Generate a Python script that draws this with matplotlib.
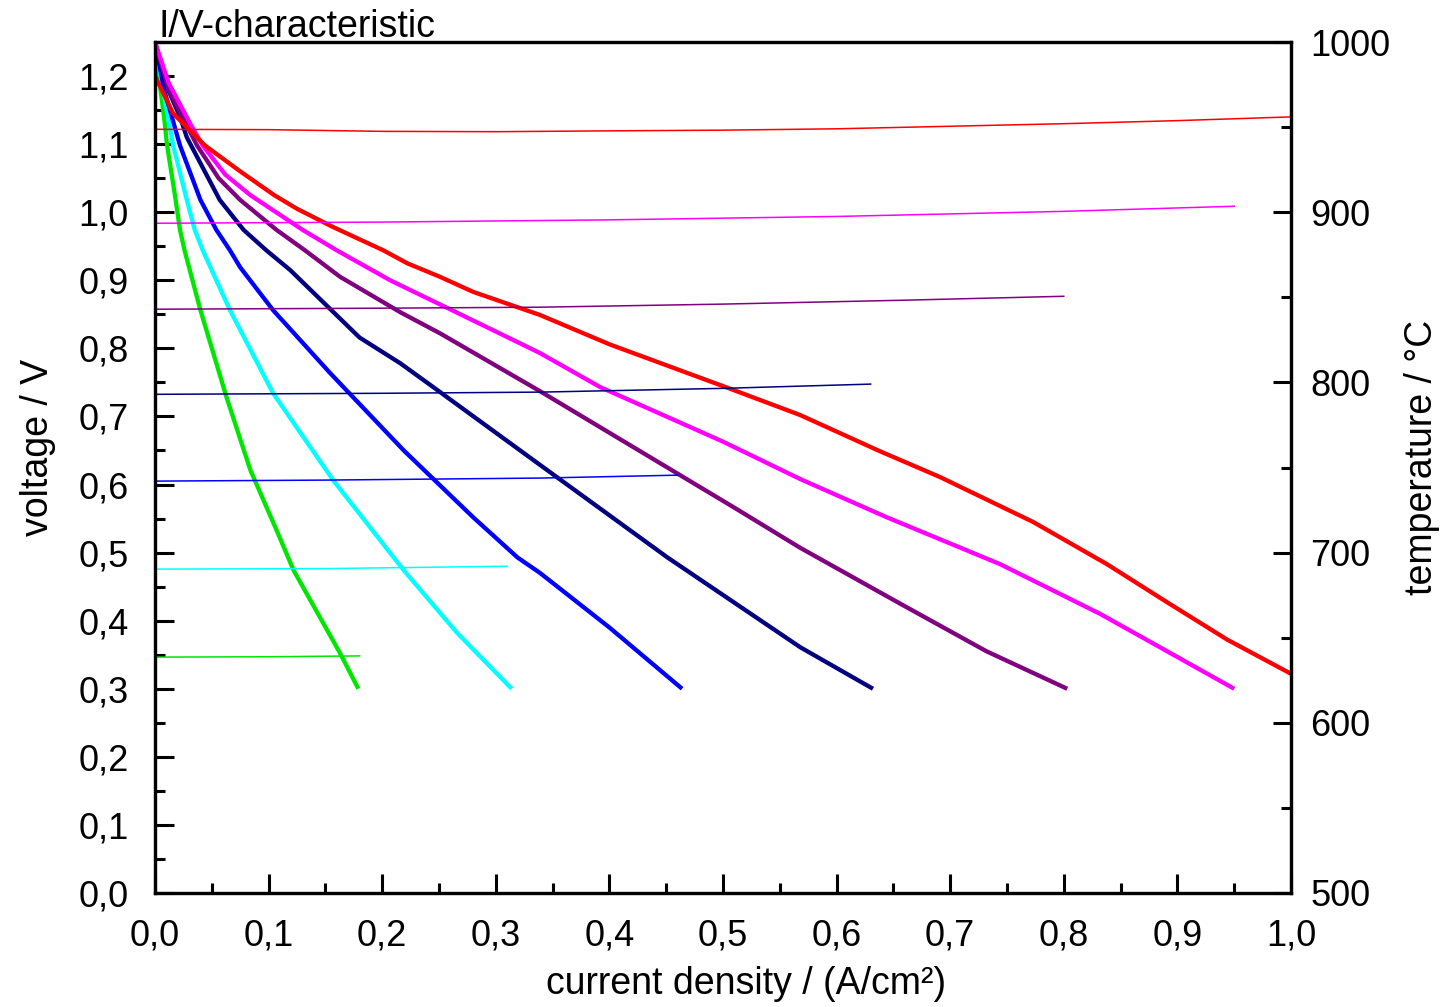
import matplotlib
matplotlib.use("Agg")
import matplotlib.pyplot as plt
from matplotlib.ticker import MultipleLocator, FuncFormatter

plt.rcParams['font.family'] = ['Liberation Sans', 'DejaVu Sans']

# ---- data: I/V curves (current density A/cm², voltage V) ----
green_j = [0, 0.004, 0.008, 0.0105, 0.018, 0.022, 0.026, 0.040, 0.063, 0.084, 0.107, 0.122, 0.163, 0.179]
green_v = [1.25, 1.19, 1.14, 1.10, 1.02, 0.974, 0.944, 0.856, 0.728, 0.621, 0.533, 0.474, 0.352, 0.30]

cyan_j = [0, 0.006, 0.016, 0.028, 0.035, 0.042, 0.066, 0.104, 0.157, 0.219, 0.266, 0.314]
cyan_v = [1.25, 1.19, 1.098, 1.018, 0.974, 0.944, 0.856, 0.734, 0.606, 0.474, 0.382, 0.30]

blue_j = [0, 0.008, 0.022, 0.040, 0.054, 0.066, 0.075, 0.104, 0.154, 0.219, 0.280, 0.319, 0.339, 0.40, 0.464]
blue_v = [1.25, 1.18, 1.098, 1.018, 0.974, 0.944, 0.919, 0.856, 0.764, 0.650, 0.552, 0.493, 0.470, 0.39, 0.30]

navy_j = [0, 0.009, 0.022, 0.028, 0.057, 0.078, 0.098, 0.119, 0.180, 0.216, 0.245, 0.333, 0.451, 0.568, 0.632]
navy_v = [1.25, 1.19, 1.14, 1.11, 1.018, 0.974, 0.944, 0.915, 0.816, 0.778, 0.743, 0.636, 0.493, 0.361, 0.30]

purple_j = [0, 0.012, 0.037, 0.056, 0.075, 0.107, 0.132, 0.163, 0.216, 0.251, 0.339, 0.509, 0.568, 0.656, 0.732, 0.803]
purple_v = [1.25, 1.18, 1.098, 1.05, 1.018, 0.974, 0.944, 0.905, 0.853, 0.822, 0.737, 0.567, 0.507, 0.425, 0.355, 0.30]

magenta_j = [0, 0.012, 0.031, 0.042, 0.062, 0.084, 0.130, 0.160, 0.207, 0.280, 0.339, 0.392, 0.50, 0.568, 0.644, 0.744, 0.832, 0.891, 0.95]
magenta_v = [1.25, 1.19, 1.13, 1.098, 1.055, 1.025, 0.974, 0.944, 0.900, 0.841, 0.793, 0.743, 0.663, 0.608, 0.552, 0.483, 0.410, 0.355, 0.30]

red_j = [0, 0.016, 0.044, 0.075, 0.105, 0.125, 0.157, 0.201, 0.222, 0.251, 0.280, 0.339, 0.40, 0.509, 0.568, 0.638, 0.691, 0.773, 0.838, 0.891, 0.944, 1.0]
red_v = [1.20, 1.145, 1.098, 1.060, 1.025, 1.005, 0.978, 0.944, 0.925, 0.905, 0.883, 0.849, 0.806, 0.739, 0.702, 0.649, 0.611, 0.545, 0.483, 0.427, 0.372, 0.322]

# ---- data: temperature traces (current density, °C) ----
red_tj = [0, 0.1, 0.2, 0.3, 0.4, 0.5, 0.6, 0.7, 0.8, 0.9, 1.0]
red_t = [948.7, 948.5, 947.5, 947.3, 947.8, 948.2, 949.0, 950.5, 952.0, 953.8, 956.0]
magenta_tj = [0, 0.2, 0.4, 0.6, 0.8, 0.95]
magenta_t = [893.5, 894.2, 895.5, 897.5, 900.5, 903.5]
purple_tj = [0, 0.2, 0.34, 0.5, 0.66, 0.8]
purple_t = [843.0, 843.6, 844.2, 846.0, 848.3, 850.6]
navy_tj = [0, 0.2, 0.34, 0.5, 0.63]
navy_t = [793.0, 793.6, 794.3, 796.5, 799.0]
blue_tj = [0, 0.15, 0.34, 0.46]
blue_t = [742.0, 742.6, 743.8, 745.5]
cyan_tj = [0, 0.15, 0.31]
cyan_t = [690.3, 690.6, 692.0]
green_tj = [0, 0.1, 0.18]
green_t = [638.6, 638.8, 639.3]

x_ticks = [0.0, 0.1, 0.2, 0.3, 0.4, 0.5, 0.6, 0.7, 0.8, 0.9, 1.0]

C_GREEN, C_CYAN, C_BLUE, C_NAVY = '#00e600', '#00ffff', '#0000ff', '#000080'
C_PURPLE, C_MAGENTA, C_RED = '#800080', '#ff00ff', '#ff0000'

fig = plt.figure(figsize=(14.41, 10.07), dpi=100)
ax = fig.add_axes([155/1441, 114/1007, (1291-155)/1441, (893-42)/1007])
ax2 = ax.twinx()

lw = 3.1
for j, v, c in [(green_j, green_v, C_GREEN), (cyan_j, cyan_v, C_CYAN), (blue_j, blue_v, C_BLUE),
                (navy_j, navy_v, C_NAVY), (purple_j, purple_v, C_PURPLE),
                (magenta_j, magenta_v, C_MAGENTA), (red_j, red_v, C_RED)]:
    ax.plot(j, v, color=c, lw=lw, solid_joinstyle='round', solid_capstyle='butt')

for j, t, c in [(red_tj, red_t, C_RED), (magenta_tj, magenta_t, C_MAGENTA), (purple_tj, purple_t, C_PURPLE),
                (navy_tj, navy_t, C_NAVY), (blue_tj, blue_t, C_BLUE), (cyan_tj, cyan_t, C_CYAN),
                (green_tj, green_t, C_GREEN)]:
    ax2.plot(j, t, color=c, lw=1.1)

ax.set_xlim(0, 1.0)
ax.set_ylim(0, 1.25)
ax2.set_ylim(500, 1000)

comma = FuncFormatter(lambda v, p: f"{v:.1f}".replace('.', ','))
ax.set_xticks(x_ticks)
ax.xaxis.set_major_formatter(comma)
ax.xaxis.set_minor_locator(MultipleLocator(0.05))
ax.yaxis.set_major_locator(MultipleLocator(0.1))
ax.yaxis.set_minor_locator(MultipleLocator(0.05))
ax.yaxis.set_major_formatter(comma)
ax2.yaxis.set_major_locator(MultipleLocator(100))
ax2.yaxis.set_minor_locator(MultipleLocator(50))

fs = 26
ax.tick_params(axis='both', which='major', direction='in', length=14, width=2.2, labelsize=fs)
ax.tick_params(axis='both', which='minor', direction='in', length=7, width=2.2)
ax.tick_params(axis='y', which='both', right=False, pad=19)
ax.tick_params(axis='x', which='both', top=False, pad=18)
ax2.tick_params(axis='y', which='major', direction='in', length=13, width=2.2, labelsize=fs, pad=14)
ax2.tick_params(axis='y', which='minor', direction='in', length=7, width=2.2)

for a in (ax, ax2):
    for s in a.spines.values():
        s.set_linewidth(2.3)

ax.set_xlabel('current density / (A/cm²)', fontsize=27, labelpad=9, x=0.52)
ax.set_ylabel('voltage / V', fontsize=27, labelpad=16, y=0.524)
ax2.set_ylabel('temperature / °C', fontsize=27, labelpad=10, y=0.512)

fig.text(158/1441, 1 - 37/1007, 'I/V-characteristic', fontsize=27, ha='left', va='baseline')

fig.savefig('out.png', dpi=100)
